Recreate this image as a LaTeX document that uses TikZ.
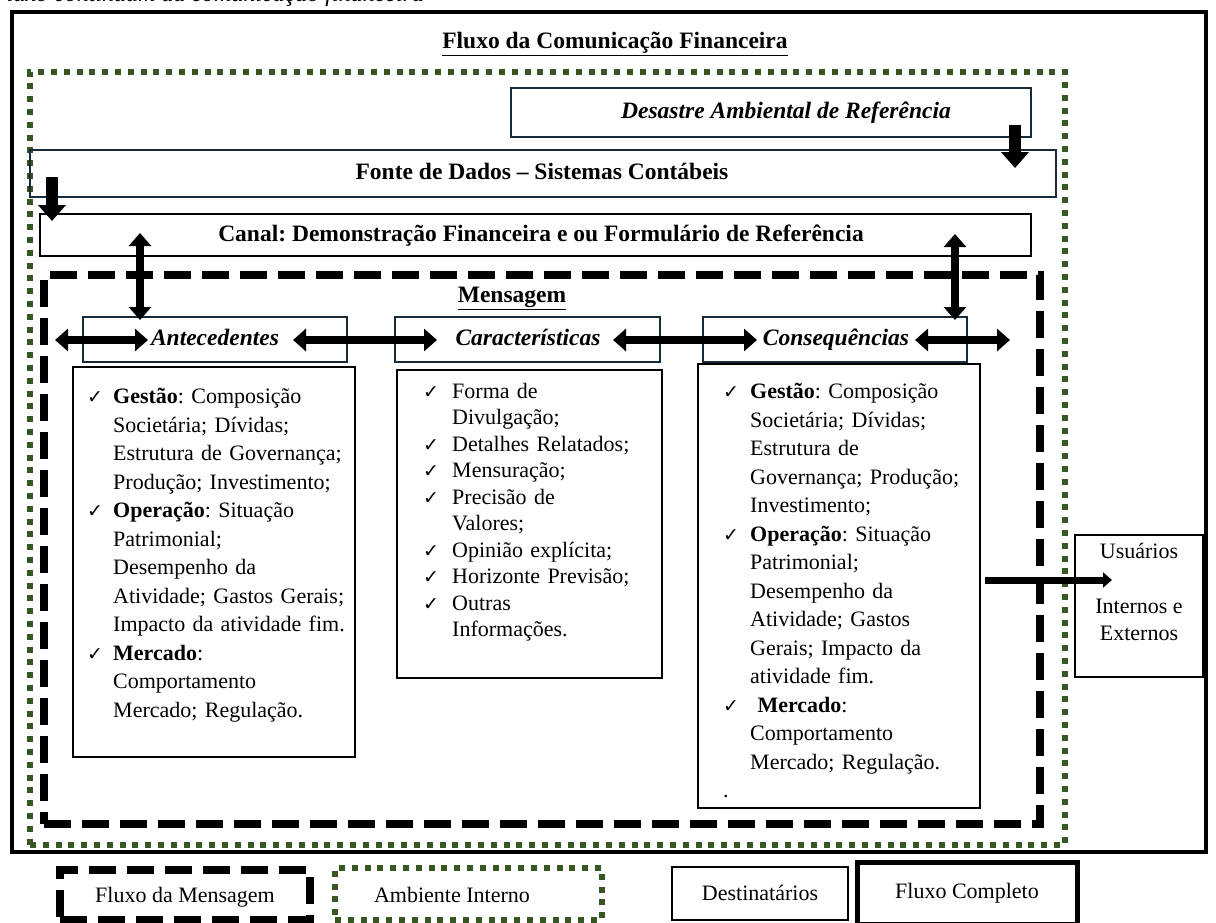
\documentclass[tikz,border=0pt]{standalone}
\usepackage{fontspec}
\setmainfont{Liberation Serif}
\newfontfamily\symfont{DejaVu Sans}
\usetikzlibrary{arrows.meta}
\definecolor{navy}{RGB}{23,43,61}
\definecolor{dgreen}{RGB}{56,87,35}
\frenchspacing
\newlength{\ckw}
\newcommand{\ckmark}{{\symfont\fontsize{19}{19}\selectfont\char"2713}}
\newcommand{\ckl}[1]{\noindent\makebox[\ckw][l]{\ckmark}#1\par}
\newcommand{\cnl}[1]{\noindent\hspace*{\ckw}#1\par}
\tikzset{
  frame/.style={draw, anchor=north west, inner sep=0pt, outer sep=0pt},
  navybox/.style={frame, draw=navy, line width=2.6pt},
  blackbox/.style={frame, draw=black, line width=2.6pt},
  dashbox/.style={frame, draw=black, line width=8pt, dash pattern=on 27pt off 11pt},
  greenbox/.style={frame, draw=dgreen, line width=6pt, dash pattern=on 6pt off 6.8pt},
  headtxt/.style={inner sep=0pt, font=\fontsize{23.5}{28}\selectfont\bfseries, text height=16pt, text depth=5pt},
  headital/.style={headtxt, font=\fontsize{23.5}{28}\selectfont\bfseries\itshape},
  plaintxt/.style={inner sep=0pt, font=\fontsize{22}{27.5}\selectfont, text height=15pt, text depth=5pt},
  listtxt/.style={anchor=north west, inner sep=0pt, text width=#1, font=\fontsize{22}{28.5}\selectfont},
  dblarrow/.style={line width=8.5pt, {Triangle[width=22pt,length=13pt]}-{Triangle[width=22pt,length=13pt]}},
  downarrow/.style={line width=12pt, -{Triangle[width=27pt,length=16pt]}},
  outarrow/.style={line width=7pt, -{Triangle[width=15pt,length=9pt]}}
}
\begin{document}
\begin{tikzpicture}[x=1pt,y=-1pt]
\useasboundingbox (0,0) rectangle (1216,922);
\clip (0,0) rectangle (1216,922);

% caption (cut at the top)
\node[anchor=base west, inner sep=0pt, font=\fontsize{24}{28}\selectfont\itshape] (caption) at (-8,1.5) {Fluxo continuum da comunicação financeira};

% frames
\node[frame, line width=3.5pt, minimum width=1194pt, minimum height=840pt] (completo) at (12,12) {};
\node[headtxt] (titulo) at (615,43) {\underline{Fluxo da Comunicação Financeira}};
\node[greenbox, minimum width=1035pt, minimum height=773pt] (interno) at (30,72) {};

\node[navybox, minimum width=520pt, minimum height=49pt] (desastre) at (511,88) {};
\node[headital] (desastretxt) at (786,113) {Desastre Ambiental de Referência};

\node[navybox, minimum width=1026pt, minimum height=47pt] (fonte) at (30,150) {};
\node[headtxt] (fontetxt) at (542,174) {Fonte de Dados – Sistemas Contábeis};

\node[blackbox, minimum width=991pt, minimum height=42pt] (canal) at (40,214) {};
\node[headtxt] (canaltxt) at (541,236) {Canal: Demonstração Financeira e ou Formulário de Referência};

\node[dashbox, minimum width=996pt, minimum height=549pt] (mensagem) at (44,275) {};
\node[headtxt] (mensagemtxt) at (512,297) {\underline{Mensagem}};

% headers
\node[navybox, minimum width=264pt, minimum height=45pt] (antbox) at (83,317) {};
\node[headital] (ant) at (215,340) {Antecedentes};
\node[navybox, minimum width=265pt, minimum height=45pt] (carbox) at (395,317) {};
\node[headital] (car) at (528,340) {Características};
\node[navybox, minimum width=264pt, minimum height=45pt] (conbox) at (703,317) {};
\node[headital] (con) at (836,340) {Consequências};

% lists
\node[blackbox, minimum width=282pt, minimum height=390pt] (antlist) at (73,367) {};
\node[listtxt=265pt] (anttxt) at (87,388) {\setlength{\ckw}{26pt}%
\ckl{\textbf{Gestão}: Composição}
\cnl{Societária; Dívidas;}
\cnl{Estrutura de Governança;}
\cnl{Produção; Investimento;}
\ckl{\textbf{Operação}: Situação}
\cnl{Patrimonial;}
\cnl{Desempenho da}
\cnl{Atividade; Gastos Gerais;}
\cnl{Impacto da atividade fim.}
\ckl{\textbf{Mercado}:}
\cnl{Comportamento}
\cnl{Mercado; Regulação.}};

\node[blackbox, minimum width=265pt, minimum height=308pt] (carlist) at (397,370) {};
\node[listtxt=240pt, font=\fontsize{22}{26.5}\selectfont] (cartxt) at (423,383) {\setlength{\ckw}{29pt}%
\ckl{Forma de}
\cnl{Divulgação;}
\ckl{Detalhes Relatados;}
\ckl{Mensuração;}
\ckl{Precisão de}
\cnl{Valores;}
\ckl{Opinião explícita;}
\ckl{Horizonte Previsão;}
\ckl{Outras}
\cnl{Informações.}};

\node[blackbox, minimum width=282pt, minimum height=444pt] (conlist) at (698,364) {};
\node[listtxt=255pt] (contxt) at (723,383) {\setlength{\ckw}{27pt}%
\ckl{\textbf{Gestão}: Composição}
\cnl{Societária; Dívidas;}
\cnl{Estrutura de}
\cnl{Governança; Produção;}
\cnl{Investimento;}
\ckl{\textbf{Operação}: Situação}
\cnl{Patrimonial;}
\cnl{Desempenho da}
\cnl{Atividade; Gastos}
\cnl{Gerais; Impacto da}
\cnl{atividade fim.}
\ckl{\ \textbf{Mercado}:}
\cnl{Comportamento}
\cnl{Mercado; Regulação.}
\noindent.\par};

% users
\node[blackbox, minimum width=128pt, minimum height=142pt] (usuarios) at (1075,535) {};
\node[inner sep=0pt, align=center, font=\fontsize{22}{27.5}\selectfont] (usuariostxt) at (1139,592) {Usuários\\[27.5pt]Internos e\\Externos};

% arrows
\coordinate (d1a) at (52,177); \coordinate (d1b) at (52,221);
\coordinate (d2a) at (1015,125); \coordinate (d2b) at (1015,168);
\draw[downarrow] (d1a) -- (d1b);
\draw[downarrow] (d2a) -- (d2b);

\coordinate (v1a) at (140,233); \coordinate (v1b) at (140,320);
\coordinate (v2a) at (955,234); \coordinate (v2b) at (955,320);
\draw[dblarrow] (v1a) -- (v1b);
\draw[dblarrow] (v2a) -- (v2b);

\coordinate (h1a) at (55,340); \coordinate (h1b) at (148,340);
\coordinate (h2a) at (293,340); \coordinate (h2b) at (437,340);
\coordinate (h3a) at (613,340); \coordinate (h3b) at (757,340);
\coordinate (h4a) at (915,340); \coordinate (h4b) at (1010,340);
\draw[dblarrow] (h1a) -- (h1b);
\draw[dblarrow] (h2a) -- (h2b);
\draw[dblarrow] (h3a) -- (h3b);
\draw[dblarrow] (h4a) -- (h4b);

\coordinate (outa) at (985,580);
\coordinate (outb) at (1112,580);
\draw[outarrow] (outa) -- (outb);

% legend
\node[dashbox, minimum width=250pt, minimum height=50pt] (legmsg) at (60,870) {};
\node[plaintxt] (legmsgtxt) at (185,897) {Fluxo da Mensagem};
\node[greenbox, minimum width=267pt, minimum height=52pt] (legamb) at (335,868) {};
\node[plaintxt] (legambtxt) at (452,897) {Ambiente Interno};
\node[blackbox, minimum width=176pt, minimum height=53pt] (legdest) at (672,867) {};
\node[plaintxt] (legdesttxt) at (760,895) {Destinatários};
\node[frame, line width=5pt, minimum width=220pt, minimum height=62pt] (legcomp) at (857,862) {};
\node[plaintxt] (legcomptxt) at (967,893) {Fluxo Completo};
\end{tikzpicture}
\end{document}
